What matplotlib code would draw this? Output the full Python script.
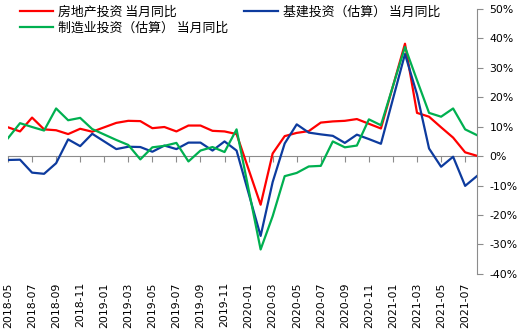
import numpy as np
import matplotlib.pyplot as plt

plt.rcParams['font.family'] = ['Noto Sans CJK SC', 'DejaVu Sans']

# months 2018-05 .. 2021-08 (January not published -> nan)
months = ['2018-05', '2018-06', '2018-07', '2018-08', '2018-09', '2018-10', '2018-11', '2018-12',
          '2019-01', '2019-02', '2019-03', '2019-04', '2019-05', '2019-06', '2019-07', '2019-08',
          '2019-09', '2019-10', '2019-11', '2019-12', '2020-01', '2020-02', '2020-03', '2020-04',
          '2020-05', '2020-06', '2020-07', '2020-08', '2020-09', '2020-10', '2020-11', '2020-12',
          '2021-01', '2021-02', '2021-03', '2021-04', '2021-05', '2021-06', '2021-07', '2021-08']
nan = np.nan
real_estate = [9.8, 8.4, 13.1, 9.1, 8.8, 7.5, 9.3, 8.3,
               nan, 11.3, 12.0, 11.9, 9.5, 9.9, 8.4, 10.4,
               10.4, 8.6, 8.4, 7.5, nan, -16.5, 0.9, 6.8,
               7.9, 8.5, 11.4, 11.8, 12.0, 12.6, 11.0, 9.4,
               nan, 38.2, 14.7, 13.4, 9.8, 6.3, 1.3, 0.1]
infra = [-1.3, -1.2, -5.6, -6.0, -2.4, 5.7, 3.4, 7.6,
         nan, 2.4, 3.2, 3.1, 1.5, 3.6, 2.4, 4.6,
         4.6, 1.9, 5.0, 1.9, nan, -27.1, -8.8, 4.3,
         10.8, 8.0, 7.4, 6.9, 4.5, 7.3, 5.8, 4.2,
         nan, 34.7, 21.0, 2.6, -3.6, -0.2, -10.1, -6.7]
manuf = [6.1, 11.2, 9.9, 8.7, 16.2, 12.2, 13.0, 9.2,
         nan, 5.5, 3.8, -1.1, 3.0, 3.5, 4.5, -1.8,
         1.9, 3.1, 1.4, 9.1, nan, -31.7, -20.4, -6.8,
         -5.7, -3.5, -3.3, 5.0, 3.0, 3.6, 12.5, 10.5,
         nan, 37.1, 25.8, 14.7, 13.4, 16.2, 9.1, 7.1]

labels = ['房地产投资 当月同比', '基建投资（估算） 当月同比', '制造业投资（估算） 当月同比']
colors = ['#FF0000', '#0D3B9E', '#00B050']

fig = plt.figure(figsize=(5.19, 3.32), dpi=100)
ax = fig.add_axes([0.0154, 0.175, 0.904, 0.798])

x = np.arange(len(months))
lines = []
for vals, c, lab in zip([real_estate, infra, manuf], colors, labels):
    v = np.array(vals, dtype=float)
    ok = ~np.isnan(v)
    ln, = ax.plot(x[ok], v[ok], color=c, lw=1.6, label=lab)
    lines.append(ln)

ymin, ymax = -40, 50
ax.set_xlim(0, len(months) - 1)
ax.set_ylim(ymin, ymax)

gray = '#8C8C8C'
for s in ['top', 'left', 'bottom']:
    ax.spines[s].set_visible(False)
ax.spines['right'].set_color(gray)
ax.yaxis.tick_right()
ax.set_yticks(np.arange(ymin, ymax + 1, 10))
ax.set_yticklabels([f'{t}%' for t in range(ymin, ymax + 1, 10)])
ax.tick_params(axis='y', colors=gray, labelcolor='black', labelsize=7.8, length=4, pad=5)

ax.set_xticks(x[::2])
ax.set_xticklabels(months[::2], rotation=90, fontsize=7.8, family='DejaVu Sans')
ax.tick_params(axis='x', length=0, pad=6)

# zero line with its tick marks
zero = ax.secondary_xaxis((0 - ymin) / (ymax - ymin))
zero.set_xticks(x[::2])
zero.set_xticklabels([])
zero.tick_params(axis='x', length=4, color=gray, direction='out')
zero.spines['bottom'].set_color(gray)

for t in ax.get_yticklabels():
    t.set_family('DejaVu Sans')

fig.legend([lines[0], lines[2], lines[1]], [labels[0], labels[2], labels[1]],
           ncol=2, loc='upper left', bbox_to_anchor=(0.028, 0.998), frameon=False,
           fontsize=9.3, handlelength=2.6, handletextpad=0.4, columnspacing=1.2,
           labelspacing=0.2, borderaxespad=0)

fig.savefig('out.png', dpi=100)
